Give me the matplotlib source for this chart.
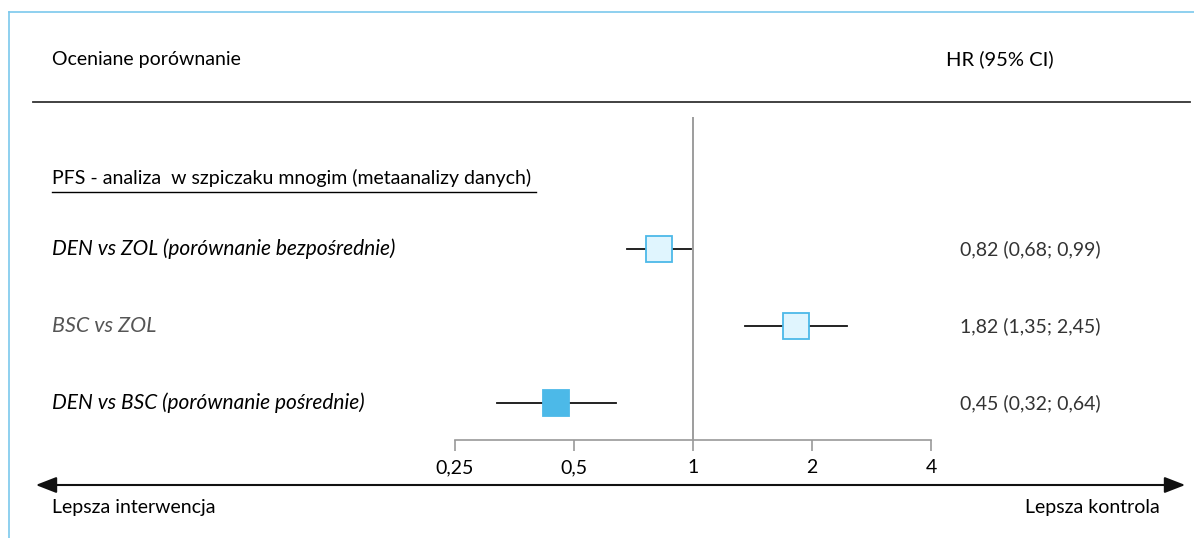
import numpy as np
import matplotlib
matplotlib.use("Agg")
import matplotlib.pyplot as plt
from matplotlib.patches import FancyArrowPatch
from matplotlib.lines import Line2D
from matplotlib.transforms import blended_transform_factory

plt.rcParams["font.family"] = ["Lato", "DejaVu Sans"]

# forest plot data
labels = [
    "DEN vs ZOL (porównanie bezpośrednie)",
    "BSC vs ZOL",
    "DEN vs BSC (porównanie pośrednie)",
]
hr = [0.82, 1.82, 0.45]
ci_low = [0.68, 1.35, 0.32]
ci_high = [0.99, 2.45, 0.64]
hr_text = ["0,82 (0,68; 0,99)", "1,82 (1,35; 2,45)", "0,45 (0,32; 0,64)"]
filled = [False, False, True]
tick_values = [0.25, 0.5, 1, 2, 4]
tick_labels = ["0,25", "0,5", "1", "2", "4"]

W, H = 1194, 538
fig = plt.figure(figsize=(W / 100, H / 100), dpi=100)


def fx(px):
    return px / W


def fy(py):
    return 1 - py / H


# light blue frame on the left and top
fig.add_artist(Line2D([fx(9), fx(9)], [fy(12), 0], color="#7cc8ec", lw=1.2))
fig.add_artist(Line2D([fx(9), 1], [fy(12), fy(12)], color="#7cc8ec", lw=1.2))

# header
fig.text(fx(52), fy(59), "Oceniane porównanie", fontsize=14, va="center", color="#000000")
fig.text(fx(946), fy(59), "HR (95% CI)", fontsize=14.5, va="center", color="#000000")
fig.add_artist(Line2D([fx(33), fx(1190)], [fy(102), fy(102)], color="#333333", lw=1.3))

# plot area
ax = fig.add_axes([fx(455), fy(440), fx(931 - 455), (440 - 117) / H])
ax.set_xscale("log", base=2)
ax.set_xlim(0.25, 4)
ax.set_ylim(0.52, 4.71)
for s in ["top", "right", "left"]:
    ax.spines[s].set_visible(False)
ax.spines["bottom"].set_color("#999999")
ax.spines["bottom"].set_linewidth(1.2)
ax.set_yticks([])
ax.set_xticks(tick_values)
ax.set_xticklabels(tick_labels)
ax.xaxis.set_minor_locator(matplotlib.ticker.NullLocator())
ax.tick_params(axis="x", direction="out", length=8, width=1.2, color="#999999",
               labelsize=14, labelcolor="#000000", pad=6)
ax.patch.set_alpha(0)

ax.axvline(1, color="#8c8c8c", lw=1.2, zorder=1)

ypos = [3, 2, 1]
for y, h, lo, hi, fill in zip(ypos, hr, ci_low, ci_high, filled):
    ax.plot([lo, hi], [y, y], color="#111111", lw=1.3, zorder=2)
    ax.plot([h], [y], marker="s", ms=19, zorder=3,
            markerfacecolor="#4cb9e8" if fill else "#e0f5fe",
            markeredgecolor="#4cb9e8", markeredgewidth=1.3)

row_tf = blended_transform_factory(fig.transFigure, ax.transData)

# section title (underlined)
ax.text(fx(52), 3.92, "PFS - analiza  w szpiczaku mnogim (metaanalizy danych)",
        transform=row_tf, fontsize=14, va="center", color="#000000")
fig.add_artist(Line2D([fx(52), fx(536)], [fy(192), fy(192)], color="#000000", lw=1.0))

for y, lab, txt in zip(ypos, labels, hr_text):
    if lab.startswith("DEN"):
        ax.text(fx(52), y, lab, transform=row_tf, fontsize=15, style="italic",
                va="center", color="#000000")
    else:
        ax.text(fx(52), y, lab, transform=row_tf, fontsize=15.5, style="italic",
                va="center", color="#555555")
    ax.text(fx(960), y, txt, transform=row_tf, fontsize=14, va="center", color="#333333")

# direction arrow
arrow = FancyArrowPatch((fx(33), fy(485)), (fx(1188), fy(485)), transform=fig.transFigure,
                        arrowstyle="<|-|>,head_length=0.9,head_width=0.35",
                        mutation_scale=14, color="#111111", lw=1.5)
fig.add_artist(arrow)
fig.text(fx(52), fy(508), "Lepsza interwencja", fontsize=14, va="center", color="#000000")
fig.text(fx(1160), fy(508), "Lepsza kontrola", fontsize=14, va="center", ha="right", color="#000000")

fig.savefig("out.png", dpi=100)
